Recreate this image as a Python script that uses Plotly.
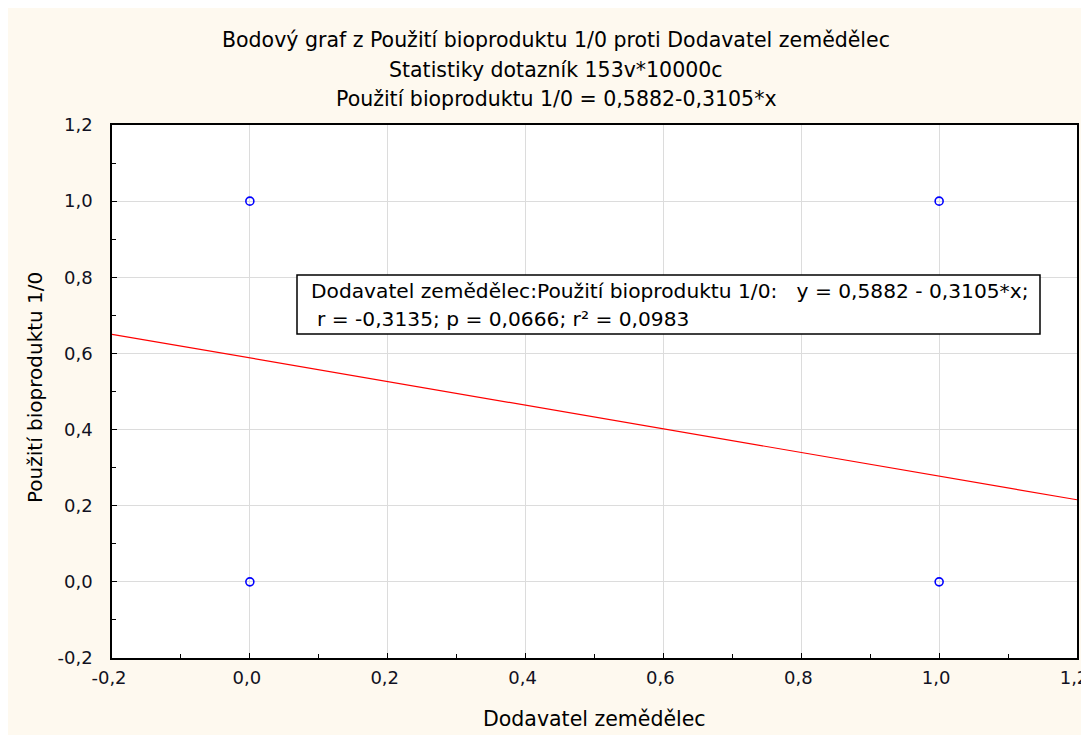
import plotly.graph_objects as go

# data
x_vals = [0, 0, 1, 1]
y_vals = [0, 1, 0, 1]
intercept = 0.5882
slope = -0.3105
line_x = [-0.2, 1.2]
tick_vals = [-0.2, 0.0, 0.2, 0.4, 0.6, 0.8, 1.0, 1.2]
tick_text = ["-0,2", "0,0", "0,2", "0,4", "0,6", "0,8", "1,0", "1,2"]
title_lines = [
    "Bodový graf z Použití bioproduktu 1/0 proti Dodavatel zemědělec",
    "Statistiky dotazník 153v*10000c",
    "Použití bioproduktu 1/0 = 0,5882-0,3105*x",
]
box_lines = [
    "Dodavatel zemědělec:Použití bioproduktu 1/0:   y = 0,5882 - 0,3105*x;",
    "r = -0,3135; p = 0,0666; r² = 0,0983",
]
x_title = "Dodavatel zemědělec"
y_title = "Použití bioproduktu 1/0"

line_y = [intercept + slope * v for v in line_x]

FONT = "DejaVu Sans, Arial, sans-serif"
CREAM = "#FEF9EF"

# page has an 8px body margin; figure sized so the page fits the window
OFF = 8
W, H = 1089 - OFF, 735 - OFF
PX_L, PX_R, PX_T, PX_B = 112, 1077, 125, 658   # plot area in screen pixels
PW, PH = PX_R - PX_L, PX_B - PX_T


def px(sx):
    return (sx - PX_L) / PW


def py(sy):
    return (PX_B - sy) / PH


fig = go.Figure()
fig.add_trace(go.Scatter(x=line_x, y=line_y, mode="lines",
                         line=dict(color="#FF0000", width=1.2), showlegend=False))
fig.add_trace(go.Scatter(x=x_vals, y=y_vals, mode="markers",
                         marker=dict(symbol="circle-open", size=8, color="#0000FF",
                                     line=dict(width=1.6, color="#0000FF")),
                         showlegend=False))

axis_common = dict(
    range=[-0.2, 1.2], tickvals=tick_vals, ticktext=tick_text,
    showgrid=True, gridcolor="#DCDCDC", gridwidth=1,
    showline=True, linecolor="#000000", linewidth=1.5, mirror=True,
    ticks="inside", ticklen=5, tickcolor="#000000",
    minor=dict(dtick=0.1, ticks="inside", ticklen=4, tickcolor="#000000", showgrid=False),
    zeroline=False, automargin=False, ticklabeloverflow="allow",
    tickfont=dict(family=FONT, size=18, color="#111122"),
)

annotations = []
for text, cy in zip(title_lines, [38, 68, 97]):
    annotations.append(dict(text=text, xref="paper", yref="paper", x=px(556), y=py(cy + 2),
                            xanchor="center", yanchor="middle", showarrow=False,
                            font=dict(family=FONT, size=20.5, color="#000000")))
for text, cy, sx in zip(box_lines, [289, 317], [309, 315]):
    annotations.append(dict(text=text, xref="paper", yref="paper", x=px(sx), y=py(cy + 2),
                            xanchor="left", yanchor="middle", align="left", showarrow=False,
                            font=dict(family=FONT, size=20.2, color="#000000")))
annotations.append(dict(text=x_title, xref="paper", yref="paper",
                        x=px(594), y=py(719), xanchor="center", yanchor="middle",
                        showarrow=False, font=dict(family=FONT, size=20.5, color="#000000")))
annotations.append(dict(text=y_title, xref="paper", yref="paper", textangle=-90,
                        x=px(35), y=py(388), xanchor="center", yanchor="middle",
                        showarrow=False, font=dict(family=FONT, size=20, color="#000000")))

fig.update_layout(
    width=W, height=H,
    margin=dict(l=PX_L - OFF, r=W - (PX_R - OFF), t=PX_T - OFF, b=H - (PX_B - OFF),
                autoexpand=False),
    paper_bgcolor=CREAM,
    plot_bgcolor="#FFFFFF",
    font=dict(family=FONT, size=20, color="#000000"),
    xaxis=dict(**axis_common, ticklabelstandoff=3, ticklabelshift=-3),
    yaxis=dict(**axis_common, ticklabelstandoff=14),
    shapes=[dict(type="rect", xref="paper", yref="paper",
                 x0=px(297), x1=px(1040), y0=py(334), y1=py(275),
                 fillcolor="#FFFFFF", line=dict(color="#000000", width=1.5))],
    annotations=annotations,
)

fig.write_html("out.html")
